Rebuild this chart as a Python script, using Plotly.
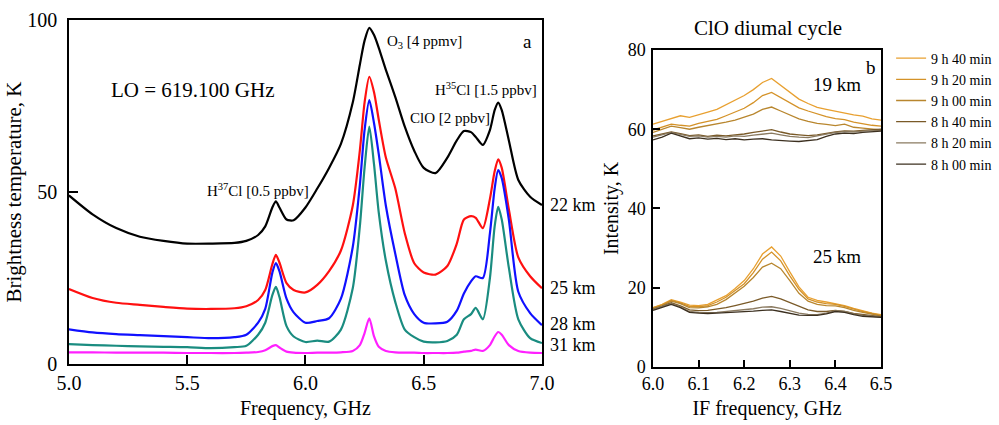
import plotly.graph_objects as go

# ---------------- Panel a: spectra ----------------
freq_a = [5.0, 5.1, 5.2, 5.3, 5.4, 5.5, 5.6, 5.7, 5.75, 5.8, 5.83, 5.86, 5.875, 5.89, 5.92, 5.95,
          6.0, 6.05, 6.1, 6.15, 6.2, 6.23, 6.25, 6.27, 6.29, 6.31, 6.34, 6.38, 6.42, 6.46, 6.5,
          6.55, 6.6, 6.64, 6.67, 6.7, 6.72, 6.75, 6.78, 6.8, 6.815, 6.83, 6.86, 6.9, 6.95, 7.0]

tb_22km = [49.0, 43.5, 39.5, 37.0, 35.8, 35.0, 35.0, 35.2, 35.8, 37.5, 40.0, 45.5, 47.3, 45.5, 42.0, 41.8,
           45.5, 51.0, 57.0, 64.0, 76.0, 87.0, 94.0, 97.7, 95.6, 91.9, 85.5, 77.6, 69.0, 62.0, 57.0,
           55.5, 60.0, 65.0, 67.7, 67.4, 66.0, 63.7, 68.0, 73.8, 76.0, 73.8, 65.0, 53.5, 48.6, 46.2]
tb_25km = [21.8, 19.2, 17.8, 17.2, 16.6, 16.1, 16.0, 16.2, 16.8, 18.6, 21.5, 29.0, 31.7, 29.5, 23.5, 21.5,
           20.8, 23.0, 27.0, 33.0, 46.0, 62.0, 76.0, 83.5, 79.0, 71.0, 60.0, 51.0, 38.0, 29.3, 26.6,
           26.0, 28.5, 35.0, 42.0, 43.0, 42.5, 39.5, 48.0, 56.0, 59.5, 57.0, 45.0, 31.0, 25.5, 22.0]
tb_28km = [10.1, 9.2, 8.7, 8.4, 8.1, 7.8, 7.5, 7.8, 8.5, 12.0, 16.0, 26.5, 29.3, 27.0, 19.0, 15.0,
           12.0, 12.5, 13.3, 19.0, 34.0, 52.0, 68.0, 76.7, 70.0, 61.0, 46.0, 32.0, 20.0, 14.5, 12.0,
           11.8, 12.3, 15.5, 20.5, 24.0, 25.5, 25.0, 38.0, 51.0, 56.4, 54.0, 42.0, 21.0, 14.8, 11.3]
tb_31km = [5.8, 5.5, 5.3, 5.1, 5.0, 4.9, 4.6, 4.9, 5.3, 8.5, 12.0, 20.0, 22.4, 19.5, 11.0, 8.0,
           6.4, 6.8, 6.5, 10.0, 22.0, 40.0, 57.0, 69.0, 58.0, 44.0, 30.0, 18.0, 10.0, 7.8, 6.5,
           6.3, 6.7, 8.5, 13.0, 14.5, 16.3, 13.0, 25.0, 40.0, 45.7, 42.0, 28.0, 13.0, 7.5, 6.1]
tb_top = [3.4, 3.4, 3.3, 3.3, 3.3, 3.2, 3.2, 3.2, 3.3, 3.5, 4.0, 5.2, 5.5, 4.8, 3.6, 3.3,
          3.2, 3.3, 3.3, 3.4, 3.8, 5.5, 9.0, 13.3, 8.0, 5.0, 3.8, 3.4, 3.3, 3.3, 3.2,
          3.2, 3.2, 3.3, 3.6, 3.8, 4.2, 3.8, 5.5, 8.0, 9.3, 8.5, 5.5, 3.8, 3.3, 3.2]

series_a = [("22 km", tb_22km, "#000000"), ("25 km", tb_25km, "#ff1010"),
            ("28 km", tb_28km, "#1010ff"), ("31 km", tb_31km, "#1a8c80"),
            ("top", tb_top, "#ff20ff")]
km_labels = ["22 km", "25 km", "28 km", "31 km"]
km_label_y = [46.2, 22.0, 11.6, 5.6]

# ---------------- Panel b: ClO diurnal cycle ----------------
freq_b = [6.00, 6.02, 6.04, 6.06, 6.08, 6.10, 6.12, 6.14, 6.16, 6.18, 6.20, 6.22, 6.24,
          6.26, 6.28, 6.30, 6.32, 6.34, 6.36, 6.38, 6.40, 6.42, 6.44, 6.46, 6.48, 6.50]

times = ["9 h 40 min", "9 h 20 min", "9 h 00 min", "8 h 40 min", "8 h 20 min", "8 h 00 min"]
time_colors = ["#e8a030", "#d49228", "#b8862e", "#7a5a28", "#8a7a60", "#3c3020"]

i19 = {
    "9 h 40 min": [61.3, 62.0, 62.8, 63.4, 63.0, 63.6, 64.3, 65.0, 66.2, 67.3, 68.5, 70.0, 71.8,
                   72.8, 71.0, 69.2, 67.6, 66.5, 65.5, 65.0, 64.5, 64.0, 63.6, 63.3, 62.6, 62.3],
    "9 h 20 min": [59.8, 60.6, 61.3, 61.0, 60.8, 61.5, 62.0, 62.5, 63.4, 64.3, 65.3, 66.7, 68.5,
                   69.3, 68.0, 66.5, 65.4, 64.6, 63.8, 63.2, 62.7, 62.4, 61.8, 61.4, 61.0, 60.8],
    "9 h 00 min": [59.2, 60.0, 60.8, 60.4, 60.0, 60.5, 60.9, 61.3, 61.8, 62.3, 63.0, 63.8, 65.0,
                   65.6, 64.6, 63.5, 62.6, 62.0, 61.5, 61.2, 60.9, 61.3, 60.5, 60.3, 60.0, 59.8],
    "8 h 40 min": [58.3, 58.8, 59.3, 58.9, 58.4, 58.6, 58.2, 58.5, 58.3, 58.6, 58.8, 59.2, 59.6,
                   59.9, 59.3, 58.8, 58.6, 58.4, 58.6, 59.0, 59.3, 59.6, 59.5, 59.7, 59.8, 60.0],
    "8 h 20 min": [58.0, 58.6, 59.2, 58.7, 58.2, 58.3, 58.0, 58.2, 58.0, 58.3, 58.2, 58.5, 58.8,
                   59.0, 58.6, 58.2, 58.0, 57.9, 58.3, 58.8, 59.2, 59.4, 59.3, 59.5, 59.6, 59.7],
    "8 h 00 min": [57.3, 58.0, 59.0, 58.3, 57.6, 57.8, 57.5, 57.7, 57.4, 57.6, 57.3, 57.5, 57.6,
                   57.3, 57.1, 57.0, 56.9, 57.1, 57.4, 58.2, 58.8, 59.0, 58.9, 59.2, 59.3, 59.5],
}
i25 = {
    "9 h 40 min": [15.0, 15.8, 17.0, 16.4, 15.6, 15.5, 15.8, 16.8, 18.0, 19.8, 21.8, 24.8, 28.5,
                   30.3, 28.0, 24.0, 20.2, 17.6, 16.8, 16.4, 16.0, 15.5, 14.8, 14.2, 13.6, 13.2],
    "9 h 20 min": [15.0, 15.7, 16.8, 16.2, 15.3, 15.2, 15.5, 16.4, 17.6, 19.4, 21.0, 23.8, 27.2,
                   29.0, 26.8, 23.0, 19.6, 17.2, 16.4, 16.0, 15.8, 15.3, 14.6, 14.0, 13.5, 13.0],
    "9 h 00 min": [14.8, 15.5, 16.6, 16.0, 15.0, 14.9, 15.2, 15.8, 17.0, 18.6, 20.4, 22.6, 25.2,
                   26.2, 24.8, 21.8, 18.6, 16.6, 15.8, 15.5, 15.4, 15.0, 14.3, 13.8, 13.3, 12.9],
    "8 h 40 min": [14.6, 15.3, 16.2, 15.4, 14.4, 14.2, 14.3, 14.6, 15.0, 15.5, 16.0, 16.6, 17.4,
                   17.8, 17.2, 16.2, 15.2, 14.4, 14.0, 14.0, 14.3, 14.0, 13.5, 13.2, 13.0, 12.7],
    "8 h 20 min": [14.5, 15.2, 16.0, 15.2, 14.0, 13.8, 13.7, 13.8, 14.0, 14.2, 14.4, 14.7, 15.1,
                   15.2, 14.8, 14.2, 13.6, 13.3, 13.2, 13.6, 14.2, 14.0, 13.4, 13.0, 12.8, 12.6],
    "8 h 00 min": [14.3, 15.0, 15.8, 15.0, 13.8, 13.6, 13.5, 13.6, 13.7, 13.8, 13.9, 14.1, 14.3,
                   14.4, 14.0, 13.5, 13.1, 13.0, 13.0, 13.4, 14.0, 13.8, 13.2, 12.8, 12.6, 12.5],
}

SERIF = "Liberation Serif"
fig = go.Figure()

for name, vals, col in series_a:
    fig.add_trace(go.Scatter(x=freq_a, y=vals, mode="lines", name=name, showlegend=False,
                             line=dict(color=col, width=2.2, shape="spline", smoothing=0.7),
                             xaxis="x", yaxis="y"))

for t, col in zip(times, time_colors):
    xs = freq_b + [None] + freq_b
    ys = i19[t] + [None] + i25[t]
    fig.add_trace(go.Scatter(x=xs, y=ys, mode="lines", name=t, showlegend=True,
                             line=dict(color=col, width=1.3),
                             xaxis="x2", yaxis="y2"))

axis_common = dict(showline=True, linecolor="black", linewidth=1.5, mirror=True,
                   ticks="inside", tickcolor="black", tickwidth=1.5,
                   showgrid=False, zeroline=False, automargin=False)

fig.update_layout(
    width=999, height=425,
    margin=dict(l=0, r=0, t=0, b=0, autoexpand=False),
    paper_bgcolor="white", plot_bgcolor="white",
    font=dict(family=SERIF, color="black", size=18),
    xaxis=dict(domain=[0.069, 0.5425], range=[5.0, 7.0], tickvals=[5.0, 5.5, 6.0, 6.5, 7.0],
               tickformat=".1f", ticklen=9, tickfont=dict(size=20),
               title=dict(text="Frequency, GHz", font=dict(size=20), standoff=8),
               anchor="y", **axis_common),
    yaxis=dict(domain=[0.1435, 0.953], range=[0, 100], tickvals=[0, 50, 100],
               ticklen=9, tickfont=dict(size=20), ticklabelstandoff=6,
               title=dict(text="Brightness temperature, K", font=dict(size=21), standoff=0),
               anchor="x", **axis_common),
    xaxis2=dict(domain=[0.6537, 0.8819], range=[6.0, 6.5],
                tickvals=[6.0, 6.1, 6.2, 6.3, 6.4, 6.5], tickformat=".1f",
                ticklen=7, tickfont=dict(size=18),
                title=dict(text="IF frequency, GHz", font=dict(size=20), standoff=8),
                anchor="y2", **axis_common),
    yaxis2=dict(domain=[0.1365, 0.8824], range=[0, 80], tickvals=[0, 20, 40, 60, 80],
                ticklen=7, tickfont=dict(size=18), ticklabelstandoff=2,
                title=dict(text="Intensity, K", font=dict(size=20), standoff=4),
                anchor="x2", **axis_common),
    legend=dict(x=0.892, y=0.90, xanchor="left", yanchor="top",
                font=dict(family=SERIF, size=14), bgcolor="rgba(0,0,0,0)",
                itemwidth=30, tracegroupgap=0),
)

ann = []
ann.append(dict(x=5.524, y=79.7, xref="x", yref="y", text="LO = 619.100 GHz",
                showarrow=False, font=dict(size=21)))
ann.append(dict(x=5.80, y=50.5, xref="x", yref="y", text="H<sup>37</sup>Cl [0.5 ppbv]",
                showarrow=False, font=dict(size=15)))
ann.append(dict(x=6.505, y=93.6, xref="x", yref="y", text="O<sub>3</sub> [4 ppmv]",
                showarrow=False, font=dict(size=15)))
ann.append(dict(x=6.94, y=93.6, xref="x", yref="y", text="a",
                showarrow=False, font=dict(size=19)))
ann.append(dict(x=6.763, y=80.0, xref="x", yref="y", text="H<sup>35</sup>Cl [1.5 ppbv]",
                showarrow=False, font=dict(size=15)))
ann.append(dict(x=6.61, y=71.5, xref="x", yref="y", text="ClO [2 ppbv]",
                showarrow=False, font=dict(size=15)))
for lab, yy in zip(km_labels, km_label_y):
    ann.append(dict(x=0.549, y=yy, xref="paper", yref="y", text=lab, xanchor="left",
                    yanchor="middle", showarrow=False, font=dict(size=18)))
ann.append(dict(x=6.478, y=75.5, xref="x2", yref="y2", text="b",
                showarrow=False, font=dict(size=19)))
ann.append(dict(x=6.404, y=71.2, xref="x2", yref="y2", text="19 km",
                showarrow=False, font=dict(size=19)))
ann.append(dict(x=6.403, y=27.8, xref="x2", yref="y2", text="25 km",
                showarrow=False, font=dict(size=19)))
ann.append(dict(x=0.769, y=0.934, xref="paper", yref="paper", text="ClO diumal cycle",
                xanchor="center", yanchor="middle", showarrow=False, font=dict(size=21)))
fig.update_layout(annotations=ann)

fig.write_html("out.html")
